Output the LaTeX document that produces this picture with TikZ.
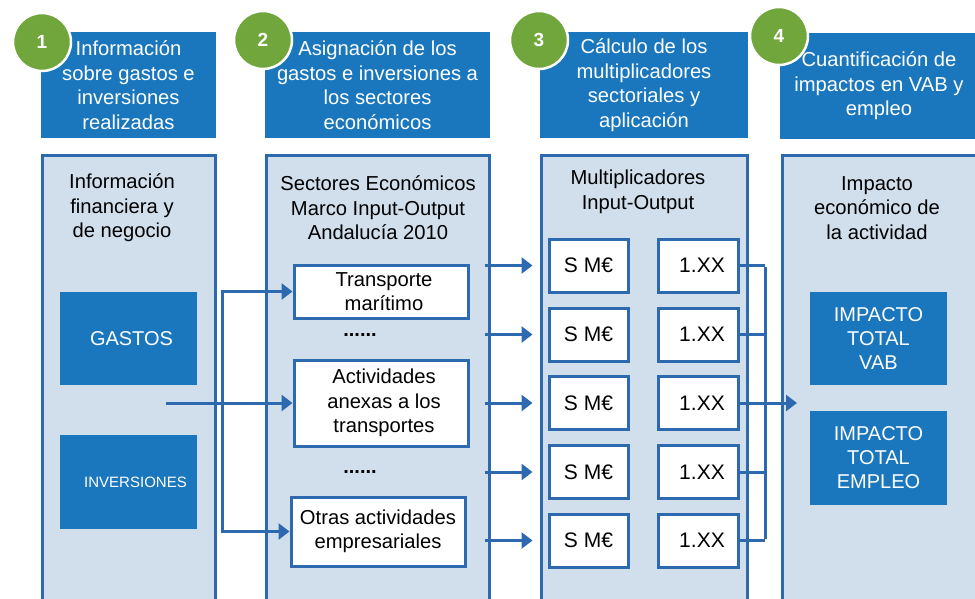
\documentclass[tikz,border=0pt]{standalone}
\usepackage{fontspec}
\setmainfont{Liberation Sans}
\usetikzlibrary{arrows.meta,positioning}
\definecolor{hdrblue}{HTML}{1A77BD}
\definecolor{panelfill}{HTML}{D1DEEC}
\definecolor{lineblue}{HTML}{2D69AF}
\definecolor{stepgreen}{HTML}{70A63B}
\begin{document}
\begin{tikzpicture}[x=1pt,y=-1pt,
  hdr/.style={fill=hdrblue, text=white, align=center, minimum height=106pt, inner sep=0pt,
    font=\fontsize{20.2}{24.5}\selectfont},
  stepnum/.style={circle, fill=stepgreen, draw=white, line width=2.5pt, minimum size=58pt,
    text=white, font=\fontsize{19}{19}\selectfont\bfseries},
  panel/.style={draw=lineblue, line width=3pt, fill=panelfill, anchor=north, minimum height=500pt},
  ptitle/.style={align=center, font=\fontsize{20.2}{24.5}\selectfont},
  bluebox/.style={fill=hdrblue, text=white, align=center, minimum width=137pt, inner sep=0pt,
    font=\fontsize{20}{24}\selectfont},
  sectbox/.style={draw=lineblue, line width=3pt, fill=white, minimum width=174pt, align=center,
    inner sep=0pt, font=\fontsize{20.2}{24.5}\selectfont},
  multbox/.style={draw=lineblue, line width=3pt, fill=white, minimum width=79pt, minimum height=53pt,
    inner sep=0pt, font=\fontsize{21}{24}\selectfont},
  conn/.style={draw=lineblue, line width=3pt, -{Triangle[length=11pt,width=16pt]}},
  link/.style={draw=lineblue, line width=3pt}]
\useasboundingbox (0,0) rectangle (975,598);
\clip (0,0) rectangle (975,598);
% headers
\node [hdr, minimum width=175pt] (h1) at (128.5,85) {Información\\sobre gastos e\\inversiones\\realizadas};
\node [hdr, minimum width=225pt] (h2) at (377.5,85) {Asignación de los\\gastos e inversiones a\\los sectores\\económicos};
\node [hdr, minimum width=208pt] (h3) at (644,85) {Cálculo de los\\multiplicadores\\sectoriales y\\aplicación};
\node [hdr, minimum width=210pt] (h4) at (885,86) {\hspace*{-12pt}Cuantificación de\\\hspace*{-12pt}impactos en VAB y\\\hspace*{-12pt}empleo};
\node [stepnum] (c1) at (42,42) {1};
\node [stepnum] (c2) at (263,40) {2};
\node [stepnum] (c3) at (539,40) {3};
\node [stepnum] (c4) at (779,36) {4};
% panels
\node [panel, minimum width=173pt] (p1) at (128.5,154) {};
\node [panel, minimum width=223pt] (p2) at (377.5,154) {};
\node [panel, minimum width=206pt] (p3) at (644,154) {};
\node [panel, minimum width=210pt] (p4) at (887,154) {};
\node [ptitle] (t1) at (122,208) {Información\\financiera y\\de negocio};
\node [ptitle] (t2) at (378,208) {Sectores Económicos\\Marco Input-Output\\Andalucía 2010};
\node [ptitle] (t3) at (638,192) {Multiplicadores\\Input-Output};
\node [ptitle] (t4) at (877,208) {Impacto\\económico de\\la actividad};
% step 1
\node [bluebox, minimum height=93pt] (gas) at (128.5,338.5) {\hspace*{6pt}GASTOS};
\node [bluebox, minimum height=94pt, font=\fontsize{15}{18}\selectfont] (inv) at (128.5,482) {\hspace*{14pt}INVERSIONES};
\coordinate (src) at (166,403);
\coordinate (split) at (222,403);
% step 2
\node [sectbox, minimum height=53pt] (tr) at (381,291.5) {\hspace*{6pt}Transporte\\\hspace*{6pt}marítimo};
\node [font=\fontsize{20}{20}\selectfont\bfseries] (dt1) at (360,335) {......};
\node [sectbox, minimum height=86pt] (act) at (381,403) {\hspace*{6pt}Actividades\\\hspace*{6pt}anexas a los\\\hspace*{6pt}transportes};
\node [font=\fontsize{20}{20}\selectfont\bfseries] (dt2) at (360,472) {......};
\node [sectbox, minimum height=69pt] (ot) at (378,531.5) {Otras actividades\\empresariales};
% step 3
\foreach \i/\y in {1/265.5,2/334.5,3/403,4/472,5/540.5} {
  \node [multbox] (sm\i) at (588.5,\y) {S M€};
  \node [multbox, minimum width=80pt] (mx\i) at (698,\y) {\hspace*{8pt}1.XX};
  \draw [conn, shorten >=15pt] ([xshift=-6pt]p2.east |- sm\i) -- (sm\i.west);
  \draw [link] (mx\i.east) -- (mx\i.east -| 765,0);
}
\coordinate (bus) at (765,403);
\coordinate (p4in) at (797,403);
% step 4
\node [bluebox] (vab) at (878.5,338.5) [minimum height=93pt] {IMPACTO\\TOTAL\\VAB};
\node [bluebox] (emp) at (878.5,458) [minimum height=94pt] {IMPACTO\\TOTAL\\EMPLEO};
% connectors
\draw [conn] (src) -- (act.west);
\draw [link, {Triangle[length=11pt,width=16pt]}-{Triangle[length=11pt,width=16pt]}] (tr.west) -| (split) |- (ot.west);
\draw [link] ([yshift=-1.5pt]bus |- mx1.east) -- ([yshift=1.5pt]bus |- mx5.east);
\draw [conn] (bus) -- (p4in);
\end{tikzpicture}
\end{document}
